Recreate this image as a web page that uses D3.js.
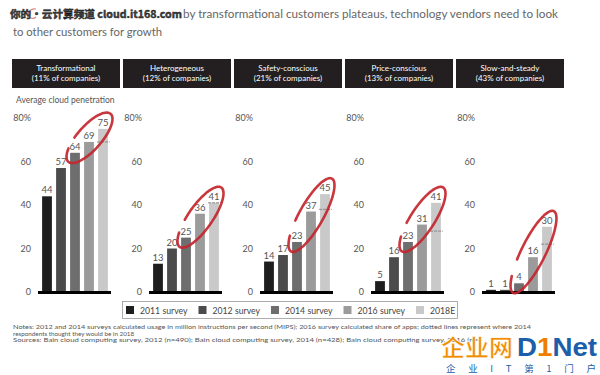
<!DOCTYPE html>
<html><head><meta charset="utf-8">
<script src="https://cdn.jsdelivr.net/npm/d3@7"></script>
<style>body{margin:0;background:#fff}svg{display:block}</style>
</head><body>
<svg id="c" width="600" height="375"></svg>
<script>
// ---------- data ----------
const years = ["2011 survey","2012 survey","2014 survey","2016 survey","2018E"];
const segments = ["Transformational","Heterogeneous","Safety-conscious","Price-conscious","Slow-and-steady"];
const segmentShares = ["(11% of companies)","(12% of companies)","(21% of companies)","(13% of companies)","(43% of companies)"];
const transformational = [44,57,64,69,75];
const heterogeneous   = [13,20,25,36,41];
const safetyConscious = [14,17,23,37,45];
const priceConscious  = [5,16,23,31,41];
const slowAndSteady   = [1,1,4,16,30];
const expected2018    = [69,41,38,28,22];   // dotted lines: 2014 respondents' expectation for 2018
const yTicks = [0,20,40,60,80];
const seriesBySegment = [transformational, heterogeneous, safetyConscious, priceConscious, slowAndSteady];

const colors = ["#1e1e1e","#4b4b4b","#6e6e6e","#9b9b9b","#c9c9c9"];
const FONT = "Lato, 'Open Sans', sans-serif";

const svg = d3.select("#c").style("font-family", FONT);

// ---------- title (with overlaid watermark) ----------
svg.append("text").attr("x", 183).attr("y", 18).attr("font-size", 11).attr("fill", "#666")
  .attr("textLength", 375).attr("lengthAdjust", "spacingAndGlyphs")
  .text("by transformational customers plateaus, technology vendors need to look");
svg.append("text").attr("x", 13).attr("y", 36).attr("font-size", 11).attr("fill", "#666")
  .attr("textLength", 149).attr("lengthAdjust", "spacingAndGlyphs")
  .text("to other customers for growth");
svg.append("path").attr("d", "M36,9 C31,8 27,12 29,16 C30,19 34,19 36,17")
  .attr("fill", "none").attr("stroke", "#d06060").attr("stroke-width", 1.2).attr("opacity", 0.75);
svg.append("text").attr("x", 10).attr("y", 18).attr("font-size", 10).attr("font-weight", "bold")
  .attr("font-family", "'Noto Sans CJK SC', sans-serif")
  .attr("fill", "#444").attr("stroke", "#111").attr("stroke-width", 0.4)
  .attr("textLength", 172).attr("lengthAdjust", "spacingAndGlyphs")
  .text("你的·云计算频道 cloud.it168.com");

// ---------- scales ----------
const panelX = d3.scalePoint().domain(segments).range([38, 482]);
const y = d3.scaleLinear().domain([0, 80]).range([292, 118]);
const xb = d3.scaleBand().domain(years).range([2, 72]).paddingInner(0.3).paddingOuter(0.15);
const bw = xb.bandwidth();

// ---------- panels ----------
segments.forEach((seg, i) => {
  const px = panelX(seg);
  const vals = seriesBySegment[i];
  const g = svg.append("g").attr("transform", `translate(${px},0)`);

  // header box
  g.append("rect").attr("x", -26).attr("y", 59).attr("width", 108).attr("height", 29).attr("fill", "#231f20");
  g.append("text").attr("x", 28).attr("y", 71).attr("text-anchor", "middle").attr("fill", "#fff")
    .attr("font-size", 8).text(seg);
  g.append("text").attr("x", 28).attr("y", 81).attr("text-anchor", "middle").attr("fill", "#fff")
    .attr("font-size", 8).text(segmentShares[i]);

  // y axis
  const ax = g.append("g").call(
    d3.axisLeft(y).tickValues(yTicks).tickSize(0).tickPadding(7)
      .tickFormat(d => d === 80 ? "80%" : d)
  );
  ax.select(".domain").remove();
  ax.selectAll("text").attr("font-size", 9).attr("fill", "#555").attr("font-family", FONT);

  // bars
  g.selectAll("rect.bar").data(vals).join("rect").attr("class", "bar")
    .attr("x", (d, j) => xb(years[j])).attr("width", bw)
    .attr("y", d => y(d)).attr("height", d => y(0) - y(d))
    .attr("fill", (d, j) => colors[j]);

  // dotted expectation line on 2018E bar
  g.append("line")
    .attr("x1", xb(years[4]) - 1).attr("x2", xb(years[4]) + bw + 2)
    .attr("y1", y(expected2018[i])).attr("y2", y(expected2018[i]))
    .attr("stroke", "#888").attr("stroke-width", 1).attr("stroke-dasharray", "3,1");

  // value labels
  g.selectAll("text.val").data(vals).join("text").attr("class", "val")
    .attr("x", (d, j) => xb(years[j]) + bw / 2).attr("y", d => y(d) - 3)
    .attr("text-anchor", "middle").attr("font-size", 9.5).attr("fill", "#555").text(d => d);

  // baseline
  g.append("line").attr("x1", 0).attr("x2", 73).attr("y1", y(0) + 0.5).attr("y2", y(0) + 0.5)
    .attr("stroke", "#000").attr("stroke-width", 3);

  // red hand-drawn ellipse around last three bars
  const p1 = [xb(years[2]) + bw / 2 - 4, y(vals[2]) + 6];
  const p2 = [xb(years[4]) + bw / 2 + 5, y(vals[4]) - 12];
  const cx = (p1[0] + p2[0]) / 2, cy = (p1[1] + p2[1]) / 2;
  const dist = Math.hypot(p2[0] - p1[0], p2[1] - p1[1]);
  const a = dist / 2 + 4, b = 12;
  const ang = Math.atan2(p2[1] - p1[1], p2[0] - p1[0]);
  const pts = d3.range(0.74 * Math.PI, 2.6 * Math.PI, 0.04).map(t => {
    const ex = a * Math.cos(t), ey = -b * Math.sin(t);
    return [cx + ex * Math.cos(ang) - ey * Math.sin(ang), cy + ex * Math.sin(ang) + ey * Math.cos(ang)];
  });
  g.append("path").attr("d", d3.line().curve(d3.curveCatmullRom)(pts))
    .attr("fill", "none").attr("stroke", "#c4262e").attr("stroke-width", 2.6)
    .attr("stroke-linecap", "round").attr("opacity", 0.92);
});

svg.append("text").attr("x", 16).attr("y", 103).attr("font-size", 8.5).attr("fill", "#555")
  .text("Average cloud penetration");

// ---------- legend ----------
const lx = d3.scalePoint().domain(years).range([126, 416]);
svg.append("rect").attr("x", 122.5).attr("y", 301.5).attr("width", 335).attr("height", 17)
  .attr("fill", "#fff").attr("stroke", "#999").attr("stroke-width", 0.8);
years.forEach((yr, j) => {
  svg.append("rect").attr("x", lx(yr)).attr("y", 306).attr("width", 8).attr("height", 8).attr("fill", colors[j]);
  svg.append("text").attr("x", lx(yr) + 14).attr("y", 313.5).attr("font-size", 8.7).attr("fill", "#444").text(yr);
});

// ---------- notes ----------
const notes = [
  "Notes: 2012 and 2014 surveys calculated usage in million instructions per second (MIPS); 2016 survey calculated share of apps; dotted lines represent where 2014",
  "respondents thought they would be in 2018",
  "Sources: Bain cloud computing survey, 2012 (n=490); Bain cloud computing survey, 2014 (n=428); Bain cloud computing survey, 2016 (n="
];
svg.append("text").attr("x", 13).attr("y", 329).attr("font-size", 6.3).attr("fill", "#555")
  .attr("textLength", 518).attr("lengthAdjust", "spacingAndGlyphs").text(notes[0]);
svg.append("text").attr("x", 13).attr("y", 335.5).attr("font-size", 6.3).attr("fill", "#555").text(notes[1]);
svg.append("text").attr("x", 13).attr("y", 342).attr("font-size", 6.3).attr("fill", "#555")
  .attr("textLength", 465).attr("lengthAdjust", "spacingAndGlyphs").text(notes[2]);

// ---------- D1Net watermark ----------
svg.append("text").attr("x", 441).attr("y", 356).attr("font-size", 23).attr("font-weight", "bold")
  .attr("font-family", "'Noto Sans CJK SC', sans-serif").attr("fill", "#f08c00")
  .attr("stroke", "#fff").attr("stroke-width", 0.6)
  .attr("textLength", 72).attr("lengthAdjust", "spacingAndGlyphs").text("企业网");
const logo = svg.append("text").attr("x", 517).attr("y", 356).attr("font-size", 26).attr("font-weight", "bold")
  .attr("font-family", "'Liberation Sans', Arial, sans-serif")
  .attr("textLength", 80).attr("lengthAdjust", "spacingAndGlyphs");
logo.append("tspan").attr("fill", "#1b5ea9").text("D");
logo.append("tspan").attr("fill", "#ef7d00").text("1");
logo.append("tspan").attr("fill", "#1b5ea9").text("Net");
svg.append("text").attr("x", 446).attr("y", 371.5).attr("font-size", 9.5)
  .attr("font-family", "'Noto Sans CJK SC', sans-serif").attr("fill", "#1b5ea9")
  .attr("textLength", 150).attr("lengthAdjust", "spacing").text("企业IT第1门户");
</script>
</body></html>
